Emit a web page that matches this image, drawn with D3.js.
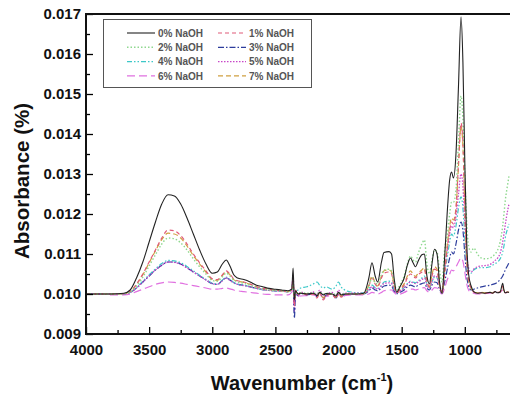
<!DOCTYPE html>
<html><head><meta charset="utf-8">
<script src="https://cdn.jsdelivr.net/npm/d3@7"></script>
<style>body{margin:0;background:#fff}svg{display:block}</style>
</head><body>
<svg id="c" width="510" height="396"></svg>
<script>
const wavenumbers = [4000,3900,3800,3700,3650,3600,3550,3500,3450,3400,
3350,3300,3250,3200,3150,3100,3050,3000,2960,2920,
2890,2860,2830,2800,2750,2700,2650,2600,2550,2500,
2450,2400,2370,2360,2350,2340,2320,2300,2250,2200,
2170,2150,2120,2100,2050,2020,2000,1980,1950,1900,
1850,1800,1760,1735,1710,1690,1660,1640,1600,1580,
1560,1540,1510,1480,1455,1430,1410,1390,1370,1340,
1320,1300,1280,1260,1240,1220,1200,1180,1160,1140,
1120,1105,1090,1070,1050,1030,1015,1000,985,970,
950,930,900,870,840,800,780,760,740,720,
700,690,680,660,650];

const naoh0 = [.01000,.01000,.01000,.01002,.01010,.01040,.01080,.01130,.01180,.01225,
.01248,.01245,.01225,.01190,.01150,.01110,.01075,.01052,.01055,.01075,
.01085,.01070,.01048,.01040,.01036,.01030,.01022,.01018,.01014,.01012,
.01010,.01008,.01012,.01065,.00985,.01008,.01000,.01002,.01000,.01002,
.00996,.01004,.00998,.01001,.01000,.00995,.01004,.00998,.01000,.01000,
.01000,.01002,.01040,.01078,.01045,.01030,.01080,.01104,.01106,.01100,
.01040,.01005,.01020,.01040,.01072,.01090,.01078,.01068,.01082,.01098,
.01100,.01045,.01025,.01075,.01112,.01100,.01030,.01002,.01090,.01200,
.01285,.01305,.01290,.01350,.01520,.01693,.01580,.01330,.01130,.01050,
.01020,.01006,.01002,.01003,.01002,.01004,.01002,.01006,.01003,.01005,
.01027,.01010,.01003,.01005,.01004];

const naoh1 = [.01000,.01000,.01000,.01001,.01006,.01025,.01050,.01080,.01110,.01140,
.01160,.01158,.01146,.01125,.01100,.01078,.01058,.01038,.01036,.01048,
.01058,.01050,.01038,.01033,.01030,.01025,.01018,.01014,.01011,.01010,
.01008,.01006,.01010,.01040,.00970,.01010,.00998,.01003,.00998,.01000,
.00990,.01003,.00985,.00995,.01000,.00988,.01002,.00992,.00998,.01000,
.01000,.01001,.01020,.01040,.01025,.01018,.01040,.01052,.01055,.01050,
.01020,.01003,.01012,.01022,.01040,.01050,.01045,.01040,.01048,.01055,
.01060,.01030,.01018,.01045,.01062,.01058,.01020,.01003,.01050,.01110,
.01160,.01180,.01175,.01210,.01330,.01427,.01380,.01220,.01090,.01035,
.01015,.01005,.01002,.01003,.01002,.01004,.01002,.01006,.01003,.01005,
.01020,.01008,.01003,.01005,.01004];

const naoh2 = [.01000,.01000,.01000,.01001,.01005,.01020,.01042,.01070,.01098,.01125,
.01140,.01138,.01128,.01110,.01088,.01068,.01050,.01034,.01032,.01043,
.01052,.01045,.01035,.01030,.01027,.01022,.01016,.01012,.01010,.01009,
.01008,.01006,.01008,.01025,.00990,.01005,.01001,.01003,.01002,.01003,
.01000,.01005,.01000,.01002,.01001,.00998,.01004,.01000,.01001,.01001,
.01001,.01002,.01020,.01040,.01028,.01025,.01048,.01060,.01062,.01058,
.01030,.01010,.01025,.01045,.01075,.01095,.01085,.01080,.01100,.01125,
.01135,.01075,.01050,.01085,.01110,.01105,.01060,.01030,.01110,.01145,
.01200,.01230,.01230,.01260,.01380,.01495,.01440,.01300,.01180,.01120,
.01105,.01115,.01100,.01090,.01088,.01090,.01094,.01100,.01110,.01130,
.01170,.01200,.01232,.01275,.01295];

const naoh3 = [.01000,.01000,.01000,.01001,.01004,.01015,.01030,.01045,.01060,.01072,
.01080,.01080,.01075,.01066,.01055,.01045,.01035,.01026,.01024,.01034,
.01040,.01035,.01028,.01024,.01022,.01018,.01014,.01011,.01009,.01008,
.01007,.01006,.01015,.01035,.00940,.01000,.00996,.01002,.00998,.01000,
.00994,.01002,.00990,.00997,.01000,.00990,.01000,.00995,.00999,.01000,
.01000,.01000,.01008,.01015,.01010,.01008,.01015,.01020,.01022,.01020,
.01008,.01001,.01005,.01010,.01018,.01022,.01020,.01018,.01022,.01026,
.01028,.01015,.01010,.01022,.01030,.01028,.01012,.01002,.01030,.01060,
.01090,.01105,.01100,.01125,.01160,.01180,.01160,.01100,.01045,.01020,
.01010,.01012,.01015,.01018,.01020,.01022,.01024,.01026,.01030,.01036,
.01045,.01052,.01060,.01072,.01078];

const naoh4 = [.01000,.01000,.01000,.01001,.01004,.01016,.01032,.01048,.01063,.01076,
.01084,.01083,.01078,.01069,.01058,.01047,.01037,.01027,.01025,.01035,
.01042,.01036,.01029,.01025,.01022,.01018,.01014,.01011,.01009,.01008,
.01007,.01006,.01010,.01030,.00995,.01008,.01010,.01015,.01018,.01025,
.01030,.01022,.01015,.01018,.01012,.01020,.01030,.01018,.01010,.01005,
.01003,.01003,.01012,.01022,.01016,.01014,.01022,.01030,.01032,.01030,
.01012,.01004,.01010,.01016,.01026,.01032,.01030,.01028,.01033,.01040,
.01045,.01025,.01015,.01030,.01042,.01040,.01022,.01008,.01050,.01090,
.01130,.01150,.01145,.01170,.01215,.01243,.01215,.01140,.01085,.01060,
.01052,.01060,.01065,.01066,.01066,.01068,.01072,.01076,.01080,.01088,
.01105,.01120,.01140,.01165,.01175];

const naoh5 = [.01000,.01000,.01000,.01001,.01004,.01015,.01030,.01045,.01060,.01072,
.01080,.01079,.01074,.01065,.01055,.01045,.01035,.01026,.01024,.01033,
.01040,.01034,.01028,.01024,.01021,.01018,.01014,.01011,.01009,.01008,
.01007,.01006,.01015,.01045,.00975,.01000,.00995,.01005,.01000,.01005,
.00998,.01010,.00995,.01000,.01004,.00996,.01010,.01000,.01002,.01002,
.01002,.01002,.01010,.01018,.01014,.01012,.01020,.01026,.01028,.01026,
.01010,.01003,.01008,.01014,.01024,.01030,.01028,.01026,.01030,.01036,
.01040,.01022,.01014,.01030,.01045,.01042,.01022,.01006,.01060,.01110,
.01150,.01170,.01165,.01195,.01250,.01300,.01270,.01180,.01100,.01065,
.01055,.01062,.01068,.01070,.01071,.01074,.01078,.01084,.01090,.01102,
.01130,.01150,.01172,.01210,.01225];

const naoh6 = [.01000,.01000,.00998,.00998,.01000,.01006,.01012,.01018,.01024,.01028,
.01030,.01029,.01027,.01024,.01021,.01018,.01015,.01012,.01012,.01014,
.01015,.01013,.01010,.01008,.01006,.01004,.01002,.01000,.00999,.00998,
.00998,.00998,.01005,.01020,.00955,.00998,.00994,.00995,.00996,.00998,
.00995,.00998,.00990,.00994,.00996,.00992,.00998,.00994,.00996,.00998,
.00998,.00998,.01000,.01004,.01002,.01000,.01004,.01008,.01010,.01010,
.01004,.00999,.01000,.01004,.01008,.01012,.01012,.01010,.01012,.01015,
.01016,.01008,.01004,.01010,.01016,.01015,.01006,.01000,.01015,.01035,
.01050,.01060,.01058,.01068,.01080,.01090,.01082,.01055,.01025,.01010,
.01004,.01002,.01000,.01000,.01001,.01002,.01002,.01003,.01004,.01004,
.01010,.01006,.01003,.01004,.01004];

const naoh7 = [.01000,.01000,.01000,.01001,.01006,.01024,.01048,.01078,.01108,.01136,
.01152,.01150,.01140,.01120,.01096,.01075,.01055,.01036,.01034,.01046,
.01056,.01048,.01036,.01032,.01029,.01024,.01018,.01014,.01011,.01010,
.01008,.01006,.01012,.01030,.00985,.01006,.01000,.01002,.01000,.01001,
.00994,.01002,.00990,.00998,.01000,.00992,.01003,.00995,.01000,.01000,
.01000,.01001,.01022,.01045,.01028,.01020,.01045,.01058,.01060,.01055,
.01022,.01004,.01014,.01026,.01045,.01058,.01050,.01044,.01052,.01060,
.01066,.01032,.01018,.01048,.01068,.01062,.01022,.01003,.01058,.01120,
.01170,.01190,.01185,.01215,.01320,.01420,.01370,.01215,.01085,.01032,
.01014,.01005,.01003,.01004,.01003,.01004,.01003,.01005,.01004,.01005,
.01018,.01008,.01004,.01005,.01004];

const seriesNames = ["0% NaOH","1% NaOH","2% NaOH","3% NaOH","4% NaOH","5% NaOH","6% NaOH","7% NaOH"];
const seriesValues = [naoh0,naoh1,naoh2,naoh3,naoh4,naoh5,naoh6,naoh7];
const yTicks = [0.009,0.010,0.011,0.012,0.013,0.014,0.015,0.016,0.017];
const xTicks = [4000,3500,3000,2500,2000,1500,1000];

const styles = [
 {color:"#222222", dash:null, w:1.1},
 {color:"#e05a78", dash:"4,3", w:1.2},
 {color:"#8fd88f", dash:"1.5,2", w:1.4},
 {color:"#2c3c9c", dash:"6,2,1.5,2", w:1.2},
 {color:"#3cc8c8", dash:"5,2,1.5,2,1.5,2", w:1.2},
 {color:"#c846c8", dash:"1.5,1.5", w:1.3},
 {color:"#e070e0", dash:"8,4", w:1.2},
 {color:"#d0a040", dash:"5,3", w:1.2}
];

const svg = d3.select("#c");
const L = 86, T = 14, B = 334, R = 509;
const x = d3.scaleLinear().domain([4000, 650]).range([L, R]);
const y = d3.scaleLinear().domain([0.009, 0.017]).range([B, T]);

svg.append("defs").append("clipPath").attr("id","clip")
  .append("rect").attr("x",L).attr("y",T).attr("width",R-L+5).attr("height",B-T);

const line = d3.line().x(d=>x(d[0])).y(d=>y(d[1])).curve(d3.curveMonotoneX);
const g = svg.append("g").attr("clip-path","url(#clip)");
const order = [6,3,4,5,7,1,2,0];
order.forEach(i=>{
  const pts = wavenumbers.map((w,k)=>[w, seriesValues[i][k]]);
  g.append("path").attr("d", line(pts)).attr("fill","none")
   .attr("stroke", styles[i].color).attr("stroke-width", styles[i].w)
   .attr("stroke-dasharray", styles[i].dash);
});

// axes
const font = "'Liberation Sans', Arial, sans-serif";
const xAxis = d3.axisBottom(x).tickValues(d3.range(4000, 649, -250)).tickSize(-6)
  .tickFormat(d => xTicks.includes(d) ? d : "");
const gx = svg.append("g").attr("transform",`translate(0,${B})`).call(xAxis);
gx.selectAll(".tick line").attr("y2", d => xTicks.includes(d) ? -7 : -4).attr("stroke-width",1.3);
gx.selectAll("text").attr("font-family",font).attr("font-weight","bold").attr("font-size",15)
  .attr("fill","#111").attr("dy","0.5em").attr("y",13);
gx.select(".domain").remove();

const yAxis = d3.axisLeft(y).tickValues(d3.range(0.009, 0.01701, 0.0005)).tickSize(-6)
  .tickFormat(d => yTicks.some(t=>Math.abs(t-d)<1e-9) ? d3.format(".3f")(d) : "");
const gy = svg.append("g").attr("transform",`translate(${L},0)`).call(yAxis);
gy.selectAll(".tick line").attr("x2", d => yTicks.some(t=>Math.abs(t-d)<1e-9) ? 7 : 4).attr("stroke-width",1.3);
gy.selectAll("text").attr("font-family",font).attr("font-weight","bold").attr("font-size",15)
  .attr("fill","#111").attr("x",-5);
gy.select(".domain").remove();

// frame
svg.append("line").attr("x1",L).attr("x2",L).attr("y1",T).attr("y2",B).attr("stroke","#111").attr("stroke-width",2);
svg.append("line").attr("x1",L-1).attr("x2",511).attr("y1",B).attr("y2",B).attr("stroke","#111").attr("stroke-width",2);
svg.append("line").attr("x1",L-1).attr("x2",511).attr("y1",T).attr("y2",T).attr("stroke","#111").attr("stroke-width",2);

// titles
svg.append("text").attr("transform","translate(29,181) rotate(-90)").attr("text-anchor","middle")
  .attr("font-family",font).attr("font-weight","bold").attr("font-size",20.5).attr("fill","#111")
  .text("Absorbance (%)");
const xt = svg.append("text").attr("x",302).attr("y",390).attr("text-anchor","middle")
  .attr("font-family",font).attr("font-weight","bold").attr("font-size",20).attr("fill","#111");
xt.append("tspan").text("Wavenumber (cm");
xt.append("tspan").attr("font-size",11).attr("dy",-9).text("-1");
xt.append("tspan").attr("dy",9).text(")");

// legend
const lg = svg.append("g");
lg.append("rect").attr("x",103.5).attr("y",19.5).attr("width",208).attr("height",68)
  .attr("fill","#fff").attr("stroke","#555").attr("stroke-width",1);
seriesNames.forEach((n,i)=>{
  const col = i%2, row = Math.floor(i/2);
  const x0 = col===0 ? 127 : 218;
  const yy = 33 + row*14.3;
  lg.append("line").attr("x1",x0).attr("x2",x0+28).attr("y1",yy).attr("y2",yy)
    .attr("stroke",styles[i].color).attr("stroke-width",styles[i].w).attr("stroke-dasharray",styles[i].dash);
  lg.append("text").attr("x",x0+31).attr("y",yy+3.7).attr("font-family",font).attr("font-weight","bold")
    .attr("font-size",10).attr("fill","#555").text(n);
});
</script>
</body></html>
